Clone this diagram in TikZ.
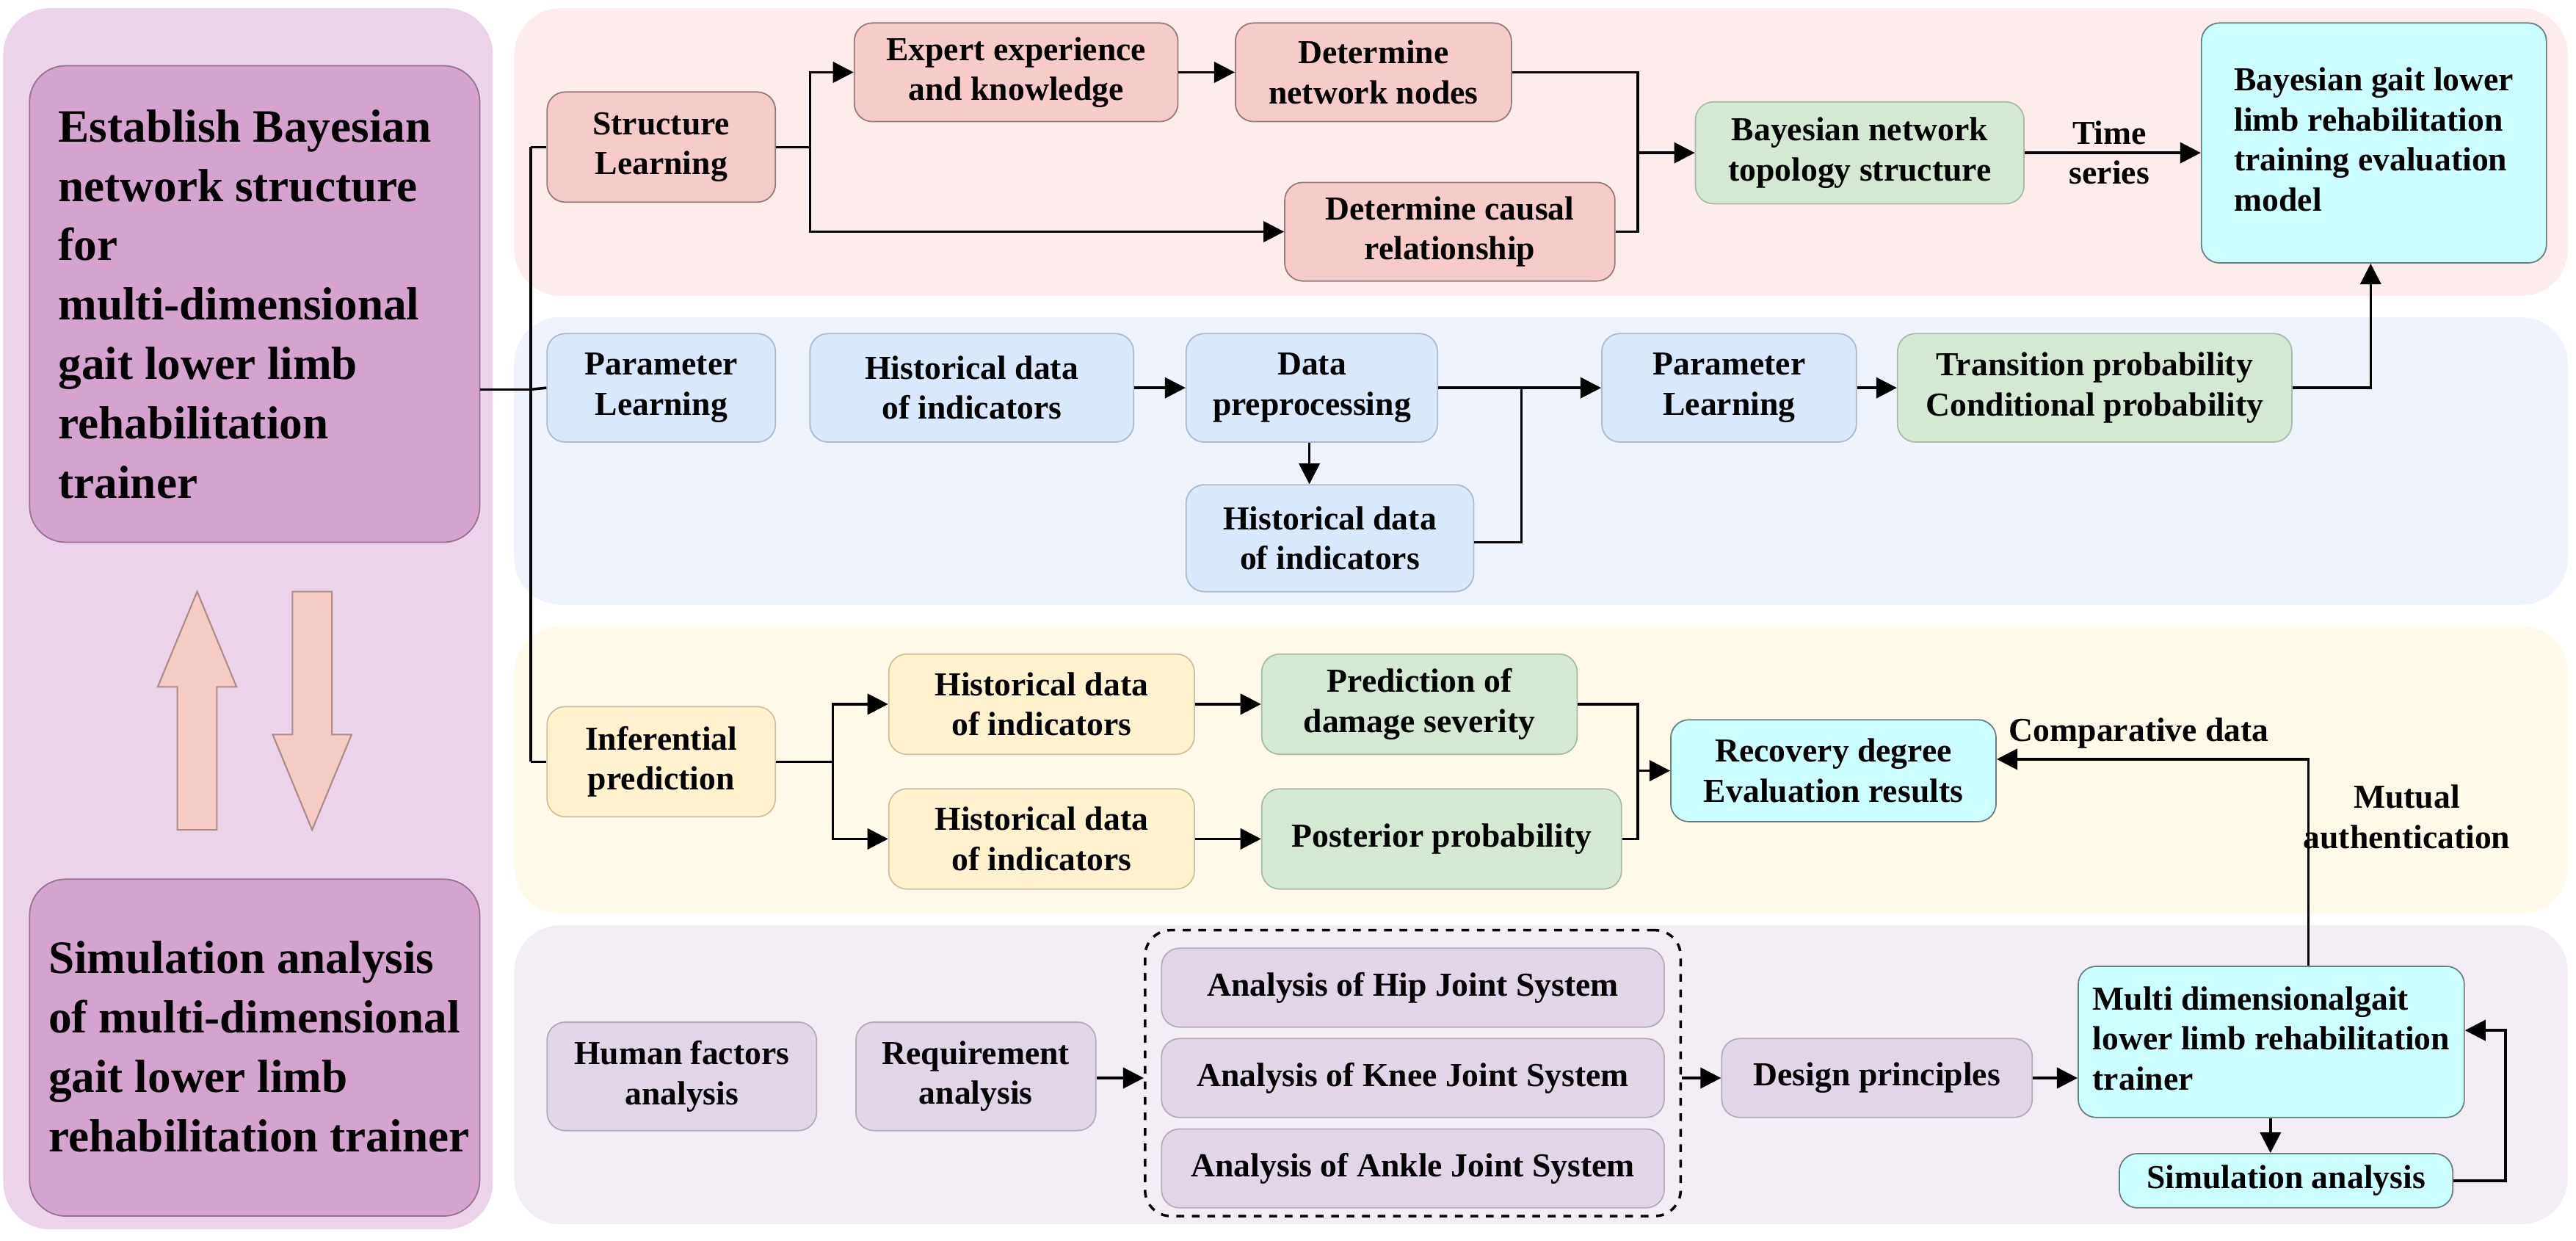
\documentclass[tikz,border=0pt]{standalone}
\usepackage{fontspec}
\setmainfont{Liberation Serif}
\usetikzlibrary{arrows.meta}
\definecolor{pkP}{HTML}{FDECEC}\definecolor{pkB}{HTML}{F6CCCA}
\definecolor{blP}{HTML}{EEF3FC}\definecolor{blB}{HTML}{DAE8FC}
\definecolor{ylP}{HTML}{FEF9E9}\definecolor{ylB}{HTML}{FFF2CC}
\definecolor{puP}{HTML}{F3EDF5}\definecolor{puB}{HTML}{E1D5E7}
\definecolor{gr}{HTML}{D5E8D4}\definecolor{cy}{HTML}{CCFFFF}
\definecolor{lf}{HTML}{EBD3E9}\definecolor{lfB}{HTML}{D4A3CE}
\definecolor{ar}{HTML}{F5CBC5}
\newcommand\bx[7]{\node[#6,minimum width={(#4-#2)*0.02238cm},minimum height={(#5-#3)*0.02238cm}] (#1) at ({(#2+#4)/2},{(#3+#5)/2}) {#7};}
\begin{document}
\begin{tikzpicture}[x=0.02238cm,y=-0.02238cm,
 font=\fontsize{13}{15.5}\selectfont\bfseries,
 b/.style={rounded corners=7pt,draw=#1!60!black,line width=0.5pt,inner sep=0pt,align=center},
 pk/.style={b=pkB,fill=pkB},bl/.style={b=blB,fill=blB,draw=blB!80!black},
 yl/.style={b=ylB,fill=ylB,draw=ylB!80!black},pu/.style={b=puB,fill=puB,draw=puB!80!black},
 gn/.style={b=gr,fill=gr,draw=gr!80!black},cn/.style={b=cy,fill=cy,draw=cy!50!black},
 pan/.style={rounded corners=18pt,draw=none,inner sep=0pt},
 blk/.style={fill=ar,draw=ar!70!black,line width=0.6pt},
 arr/.style={line width=1pt,-{Triangle[length=8pt,width=8pt]}},
 ln/.style={line width=1pt}]
\useasboundingbox (0,0) rectangle (1568,755);
% left panel
\bx{lp}{2}{5}{300}{748}{pan,fill=lf}{}
\bx{lt}{18}{40}{292}{330}{b=lfB,fill=lfB,draw=lfB!70!black,rounded corners=14pt}{}
\node[font=\fontsize{18}{23}\selectfont\bfseries,align=left,anchor=west] (ltt) at (30,185) {Establish Bayesian\\network structure\\for\\multi-dimensional\\gait lower limb\\rehabilitation\\trainer};
\bx{lb}{18}{535}{292}{740}{b=lfB,fill=lfB,draw=lfB!70!black,rounded corners=14pt}{}
\node[font=\fontsize{18}{23}\selectfont\bfseries,align=left,anchor=west] (lbt) at (24,637) {Simulation analysis\\of multi-dimensional\\gait lower limb\\rehabilitation trainer};
\draw[blk] (108,505) -- (108,418) -- (96,418) -- (120,360) -- (144,418) -- (132,418) -- (132,505) -- cycle;
\draw[blk] (178,360) -- (178,447) -- (166,447) -- (190,505) -- (214,447) -- (202,447) -- (202,360) -- cycle;
% panels
\bx{p1}{313}{5}{1563}{180}{pan,fill=pkP}{}
\bx{p2}{313}{193}{1563}{368}{pan,fill=blP}{}
\bx{p3}{313}{381}{1563}{556}{pan,fill=ylP}{}
\bx{p4}{313}{563}{1563}{745}{pan,fill=puP}{}
% row1
\bx{sl}{333}{56}{472}{123}{pk}{Structure\\Learning}
\bx{ee}{520}{14}{717}{74}{pk}{Expert experience\\and knowledge}
\bx{dn}{752}{14}{920}{74}{pk}{Determine\\network nodes}
\bx{dc}{782}{111}{983}{171}{pk}{Determine causal\\relationship}
\bx{bt}{1032}{62}{1232}{124}{gn}{Bayesian network\\topology structure}
\bx{bm}{1340}{14}{1550}{160}{cn}{\begin{tabular}{@{}l@{}}Bayesian gait lower\\limb rehabilitation\\training evaluation\\model\end{tabular}}
\coordinate (j1a) at (493,44);\coordinate (j1b) at (493,141);
\draw[ln] (sl.east) -- (493,89.5) coordinate (j1);
\draw[arr] (j1) -- (j1a) -- (ee.west);
\draw[arr] (j1) -- (j1b) -- (dc.west);
\draw[arr] (ee) -- (dn);
\coordinate (j2) at (997,93);
\draw[ln] (dn.east) -| (j2);\draw[ln] (dc.east) -| (j2);
\draw[arr] (j2) -- (bt.west);
\draw[arr] (bt.east) -- (bt.east-|bm.west);
\node[align=center] (ts) at (1284,93) {Time\\series};
% row2
\bx{pl}{333}{203}{472}{269}{bl}{Parameter\\Learning}
\bx{h1}{493}{203}{690}{269}{bl}{Historical data\\of indicators}
\bx{dp}{722}{203}{875}{269}{bl}{Data\\preprocessing}
\bx{h2}{722}{295}{897}{360}{bl}{Historical data\\of indicators}
\bx{pl2}{975}{203}{1130}{269}{bl}{Parameter\\Learning}
\bx{tp}{1155}{203}{1395}{269}{gn}{Transition probability\\Conditional probability}
\draw[arr] (h1) -- (dp);
\draw[arr] (dp) -- (pl2);
\coordinate (j3) at (926,236);
\draw[ln] (h2.east|-0,330) -| (j3);
\draw[arr] (dp.south-|797,0) -- (h2.north-|797,0);
\draw[arr] (pl2) -- (tp);
\draw[arr] (tp.east) -| (bm.south-|1443,0);
% row3
\bx{ip}{333}{430}{472}{497}{yl}{Inferential\\prediction}
\bx{h3}{541}{398}{727}{459}{yl}{Historical data\\of indicators}
\bx{h4}{541}{480}{727}{541}{yl}{Historical data\\of indicators}
\bx{pd}{768}{398}{960}{459}{gn}{Prediction of\\damage severity}
\bx{pp}{768}{480}{987}{541}{gn}{Posterior probability}
\bx{rd}{1017}{438}{1215}{500}{cn}{Recovery degree\\Evaluation results}
\draw[ln] (ip.east) -- (507,463.5) coordinate (j4);
\draw[arr] (j4) |- (h3.west);\draw[arr] (j4) |- (h4.west);
\draw[arr] (h3) -- (pd);\draw[arr] (h4) -- (pp);
\coordinate (j5) at (997,469);
\draw[ln] (pd.east) -| (j5);\draw[ln] (pp.east) -| (j5);
\draw[arr] (j5) -- (rd.west|-j5);
\node (cd) at (1302,446) {Comparative data};
\node[align=center] (ma) at (1465,497) {Mutual\\authentication};
% tree
\draw[ln] (lt.east|-0,237) -- (323,237) coordinate (t0);
\draw[ln] (323,89.5) -- (323,463.5);
\draw[ln] (323,89.5) -- (sl.west);
\draw[ln] (t0) -- (pl.west);
\draw[ln] (323,463.5) -- (ip.west);
% row4
\bx{hf}{333}{622}{497}{688}{pu}{Human factors\\analysis}
\bx{ra}{521}{622}{667}{688}{pu}{Requirement\\analysis}
\bx{db}{697}{566}{1023}{740}{draw,dashed,line width=1pt,rounded corners=10pt}{}
\bx{hip}{707}{577}{1013}{625}{pu}{Analysis of Hip Joint System}
\bx{kn}{707}{632}{1013}{680}{pu}{Analysis of Knee Joint System}
\bx{an}{707}{687}{1013}{735}{pu}{Analysis of Ankle Joint System}
\bx{dsp}{1048}{632}{1237}{680}{pu}{Design principles}
\bx{mt}{1265}{588}{1500}{680}{cn}{\begin{tabular}{@{}l@{}}Multi dimensionalgait\\lower limb rehabilitation\\trainer\end{tabular}}
\bx{sa}{1290}{702}{1493}{735}{cn}{Simulation analysis}
\draw[arr] (ra.east|-0,656) -- (db.west|-0,656);
\draw[arr] (db.east|-0,656) -- (dsp.west);
\draw[arr] (dsp.east) -- (mt.west|-dsp);
\draw[arr] (mt.south-|1382,0) -- (sa.north-|1382,0);
\draw[arr] (sa.east) -| (1525,627) -- (mt.east|-0,627);
\draw[arr] (mt.north-|1405,0) |- (rd.east|-0,462);
\end{tikzpicture}
\end{document}
